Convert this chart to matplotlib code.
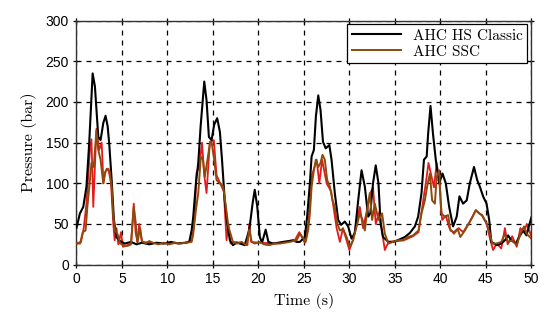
import numpy as np
import matplotlib
matplotlib.use("Agg")
import matplotlib.pyplot as plt

# (time s, pressure bar)
hs_classic = [(0, 45), (0.38, 63), (0.75, 71), (1.1, 96), (1.4, 149), (1.78, 235), (2.03, 219),
              (2.4, 157), (2.65, 153), (2.95, 174), (3.2, 183), (3.43, 170), (3.6, 149), (3.87, 104),
              (4.12, 55), (4.4, 34), (4.8, 29), (5.3, 26), (6.0, 28), (6.6, 25), (7.2, 27), (8.0, 25),
              (8.8, 27), (9.6, 26), (10.4, 28), (11.2, 26), (12.0, 27), (12.4, 28), (12.66, 42),
              (12.84, 59), (13.13, 100), (13.39, 125), (13.65, 170), (14.05, 225), (14.3, 202),
              (14.56, 157), (14.85, 153), (15.14, 172), (15.47, 180), (15.77, 163), (16.0, 129),
              (16.3, 79), (16.57, 51), (16.87, 30), (17.2, 24), (17.6, 27), (17.97, 26), (18.5, 24),
              (19.0, 43), (19.36, 75), (19.6, 92), (19.87, 72), (20.16, 34), (20.4, 27), (20.8, 43),
              (21.1, 28), (21.6, 26), (22.2, 27), (22.7, 28), (23.3, 29), (23.8, 30), (24.2, 28),
              (24.56, 28), (25.1, 34), (25.36, 59), (25.66, 100), (25.85, 133), (26.1, 141),
              (26.32, 182), (26.58, 208), (26.83, 190), (27.1, 151), (27.4, 143), (27.8, 147),
              (28.04, 129), (28.4, 88), (28.77, 55), (29.1, 49), (29.5, 53), (29.87, 47), (30.24, 32),
              (30.6, 39), (30.97, 79), (31.34, 116), (31.7, 96), (32.07, 59), (32.3, 63), (32.6, 100),
              (32.9, 122), (33.2, 100), (33.43, 51), (33.7, 34), (34.3, 28), (34.8, 28), (35.3, 30),
              (36.1, 34), (36.65, 39), (37.2, 47), (37.56, 59), (37.93, 88), (38.2, 129), (38.5, 133),
              (38.66, 161), (38.92, 195), (39.2, 160), (39.5, 129), (39.87, 100), (40.24, 112),
              (40.6, 100), (40.97, 71), (41.4, 47), (41.8, 59), (42.1, 84), (42.5, 75), (42.9, 79),
              (43.24, 100), (43.7, 120), (44.05, 104), (44.34, 96), (44.7, 84), (45.08, 75),
              (45.37, 55), (45.6, 28), (46.2, 24), (46.7, 26), (47.1, 30), (47.45, 36), (47.8, 30),
              (48.3, 26), (48.66, 34), (49.1, 42), (49.47, 36), (49.84, 51), (50, 58)]

ssc = [(0, 26), (0.4, 26), (0.7, 40), (1.0, 42), (1.2, 71), (1.45, 100), (1.65, 125), (1.9, 120),
       (2.2, 165), (2.4, 141), (2.65, 129), (2.95, 100), (3.1, 112), (3.35, 118), (3.65, 115),
       (3.87, 96), (4.05, 59), (4.25, 42), (4.5, 38), (4.8, 26), (5.2, 24), (5.6, 23), (6.0, 25),
       (6.3, 71), (6.5, 53), (6.7, 27), (7.0, 45), (7.2, 29), (7.6, 26), (8.0, 29), (8.4, 27),
       (9.0, 25), (9.6, 27), (10.2, 25), (10.8, 27), (11.4, 26), (12.0, 27), (12.66, 28),
       (12.84, 38), (13.13, 67), (13.39, 88), (13.65, 129), (13.87, 133), (14.1, 108), (14.35, 125),
       (14.67, 149), (14.85, 151), (15.14, 129), (15.4, 104), (15.77, 100), (16.13, 96), (16.43, 71),
       (16.7, 47), (16.94, 38), (17.2, 28), (17.6, 26), (18.15, 28), (18.7, 24), (19.0, 43),
       (19.27, 28), (19.6, 26), (20.16, 28), (20.6, 25), (21.2, 24), (21.8, 26), (22.36, 26),
       (22.9, 27), (23.46, 28), (24.2, 30), (24.56, 38), (24.85, 34), (25.2, 28), (25.48, 43),
       (25.66, 63), (25.85, 96), (26.1, 116), (26.32, 129), (26.58, 120), (26.83, 125), (27.05, 135),
       (27.3, 129), (27.56, 104), (27.86, 96), (28.15, 79), (28.4, 71), (28.66, 51), (28.96, 42),
       (29.3, 44), (29.7, 34), (30.05, 22), (30.4, 30), (30.8, 47), (31.15, 63), (31.45, 55),
       (31.7, 42), (31.96, 67), (32.25, 88), (32.5, 55), (32.8, 75), (33.2, 55), (33.6, 63),
       (33.9, 38), (34.3, 26), (34.8, 28), (35.3, 30), (35.9, 30), (36.45, 34), (37.0, 36),
       (37.6, 42), (37.93, 63), (38.3, 79), (38.55, 96), (38.85, 112), (39.1, 79), (39.4, 75),
       (39.6, 108), (39.87, 116), (40.1, 63), (40.5, 59), (40.86, 61), (41.1, 42), (41.5, 40),
       (41.9, 44), (42.2, 34), (42.7, 42), (43.2, 52), (43.55, 59), (43.9, 67), (44.26, 63),
       (44.6, 61), (45.08, 51), (45.45, 38), (45.7, 26), (46.2, 26), (46.7, 28), (47.1, 38),
       (47.45, 28), (47.9, 30), (48.4, 24), (48.8, 38), (49.2, 47), (49.5, 38), (50, 32)]

# red trace drawn under the SSC line
ssc_raw = [(0, 26), (0.5, 28), (0.8, 45), (1.1, 75), (1.48, 141), (1.65, 154), (1.85, 71), (2.2, 167),
           (2.5, 141), (2.77, 150), (2.97, 100), (3.2, 115), (3.5, 118), (3.8, 100), (4.05, 50),
           (4.2, 30), (4.4, 45), (4.6, 25), (4.9, 40), (5.1, 22), (5.6, 24), (6.0, 26), (6.3, 75),
           (6.5, 40), (6.7, 28), (6.9, 50), (7.2, 28), (8, 27), (10, 26), (12, 27), (12.7, 30),
           (13.0, 60), (13.2, 113), (13.5, 120), (13.8, 150), (14.05, 110), (14.3, 88), (14.67, 151),
           (15.1, 153), (15.4, 110), (15.8, 100), (16.2, 90), (16.5, 30), (16.7, 50), (16.94, 26),
           (17.2, 28), (18, 27), (18.8, 24), (19.0, 50), (19.2, 28), (20, 27), (22, 26), (24, 30),
           (24.5, 40), (25.1, 27), (25.5, 50), (25.9, 110), (26.4, 129), (26.7, 100), (27.0, 129),
           (27.5, 100), (28.0, 90), (28.6, 45), (28.96, 28), (29.3, 45), (30.0, 18), (30.4, 30),
           (31.15, 71), (31.5, 45), (32.0, 70), (32.3, 88), (32.6, 95), (32.9, 50), (33.3, 65),
           (33.6, 40), (33.9, 18), (34.3, 28), (36, 30), (37, 35), (37.6, 40), (38.0, 70), (38.4, 100),
           (38.7, 125), (39.0, 110), (39.3, 95), (39.6, 125), (39.9, 100), (40.2, 55), (40.6, 60),
           (41.0, 45), (41.5, 38), (42, 45), (42.5, 40), (43.2, 52), (43.9, 67), (44.6, 60),
           (45.1, 50), (45.5, 30), (45.8, 18), (46.2, 26), (46.7, 20), (47.1, 45), (47.4, 25),
           (47.9, 35), (48.4, 22), (48.8, 45), (49.2, 40), (49.5, 50), (50, 35)]

x_ticks = [0, 5, 10, 15, 20, 25, 30, 35, 40, 45, 50]
y_ticks = [0, 50, 100, 150, 200, 250, 300]

t_hs, p_hs = np.array(hs_classic).T
t_ssc, p_ssc = np.array(ssc).T
t_raw, p_raw = np.array(ssc_raw).T

serif = 'cmr10'
fig = plt.figure(figsize=(5.5, 3.28), dpi=100)
ax = fig.add_axes([0.139, 0.193, 0.827, 0.7445])

ax.plot(t_raw, p_raw, color='#e41a1c', lw=1.3, zorder=2)
ax.plot(t_hs, p_hs, color='k', lw=1.5, label='AHC HS Classic', zorder=3)
ax.plot(t_ssc, p_ssc, color='#8c4a0c', lw=1.4, label='AHC SSC', zorder=4)

ax.set_xlim(0, 50)
ax.set_ylim(0, 300)
ax.set_xticks(x_ticks)
ax.set_yticks(y_ticks)
ax.grid(True, color='k', ls=(0, (4, 4)), lw=0.9)
ax.tick_params(direction='inout', length=5, width=0.9, top=True, right=True,
               labelsize=10, pad=3)
for lab in ax.get_xticklabels() + ax.get_yticklabels():
    lab.set_family('Liberation Sans')
for s in ax.spines.values():
    s.set_linewidth(1.0)
    s.set_color('#333333')

ax.set_xlabel('Time (s)', family=serif, fontsize=11.5, labelpad=5)
ax.set_ylabel('Pressure (bar)', family=serif, fontsize=11.5, labelpad=6)

leg = ax.legend(loc='upper right', bbox_to_anchor=(1.0, 1.0), borderaxespad=0.25,
                prop={'family': serif, 'size': 11}, fancybox=False, edgecolor='k',
                framealpha=1, handlelength=3.2, borderpad=0.3, labelspacing=0.15)
leg.get_frame().set_linewidth(0.9)

fig.savefig('out.png', dpi=100)
